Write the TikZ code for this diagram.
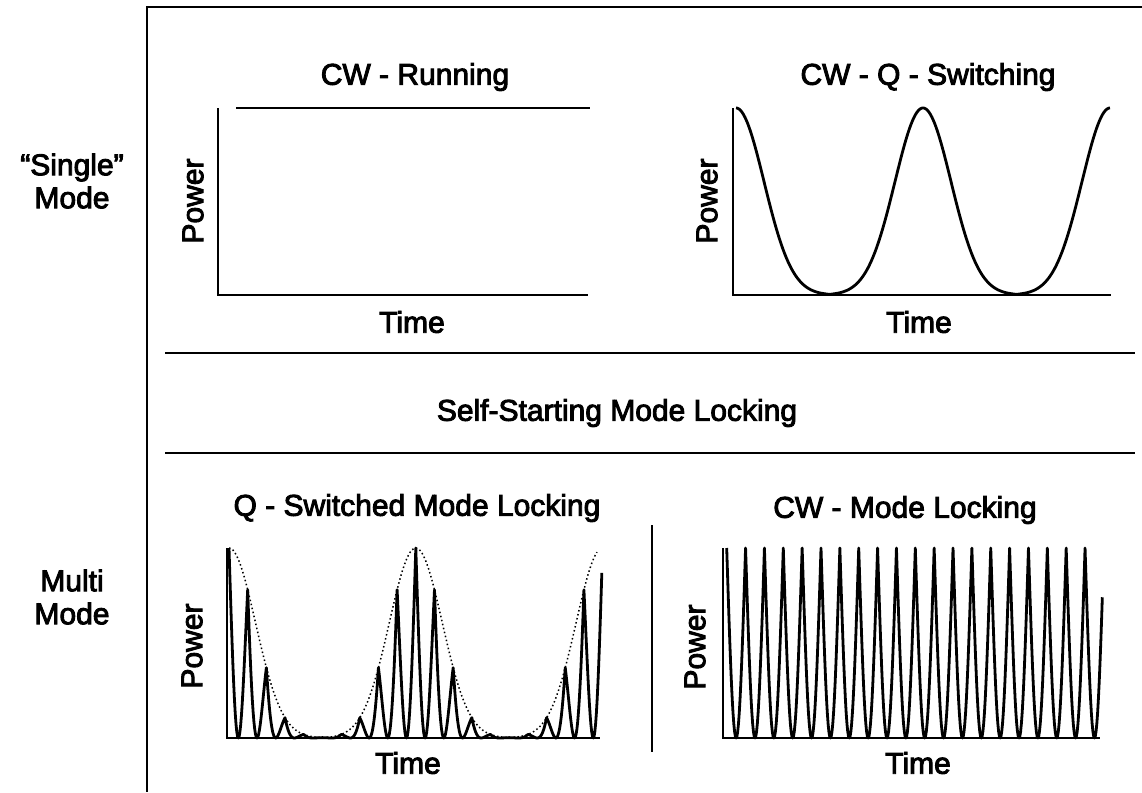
\documentclass[tikz,border=0pt]{standalone}
\usepackage{fontspec}
\setmainfont{Liberation Sans}[RawFeature={embolden=3}]
\begin{document}
\begin{tikzpicture}[x=1pt,y=-1pt,
  declare function={
    tri(\t,\p)=\p/180*asin(sin(\t/\p*180));
    gau(\t,\p,\s)=exp(-(tri(\t,\p)*tri(\t,\p))/(2*\s*\s));
    pul(\t,\p)=1-abs(sin(\t/\p*180));
  },
  lbl/.style={font=\fontsize{30}{33}\selectfont, inner sep=0pt, anchor=center, align=center},
  framel/.style={line width=2.8pt},
  axisl/.style={line width=2.4pt, line join=miter},
  curvel/.style={line width=2.8pt, line join=round},
  envl/.style={line width=1.5pt, dash pattern=on 1.5pt off 2.6pt}]
\useasboundingbox (0,0) rectangle (1142,792);
\fill[white] (0,0) rectangle (1142,792);

% frame
\coordinate (ftr) at (1142,7);
\coordinate (ftl) at (147,7);
\coordinate (fbl) at (147,792);
\draw[framel] (ftr) -- (ftl) -- (fbl);
\coordinate (m1l) at (165,353); \coordinate (m1r) at (1135,353);
\coordinate (m2l) at (165,453); \coordinate (m2r) at (1135,453);
\draw[framel] (m1l) -- (m1r);
\draw[framel] (m2l) -- (m2r);
\coordinate (dvt) at (652,525); \coordinate (dvb) at (652,752);
\draw[framel] (dvt) -- (dvb);

% row labels
\node[lbl] (single) at (72,181) {“Single”\\Mode};
\node[lbl] (multi) at (72,597) {Multi\\Mode};
\node[lbl] (self) at (617,413) {Self-Starting Mode Locking};

% plot 1: CW running
\node[lbl] (t1) at (415,77) {CW - Running};
\node[lbl, rotate=90] (p1) at (193,201) {Power};
\node[lbl] (x1) at (412,322) {Time};
\coordinate (a1t) at (218,108); \coordinate (a1o) at (218,295); \coordinate (a1r) at (588,295);
\draw[axisl] (a1t) -- (a1o) -- (a1r);
\coordinate (c1l) at (236,108); \coordinate (c1r) at (590,108);
\draw[curvel] (c1l) -- (c1r);

% plot 2: CW Q-switching
\node[lbl] (t2) at (928,77) {CW - Q - Switching};
\node[lbl, rotate=90] (p2) at (707,201) {Power};
\node[lbl] (x2) at (919,322) {Time};
\coordinate (a2t) at (733,108); \coordinate (a2o) at (733,295); \coordinate (a2r) at (1111,295);
\draw[axisl] (a2t) -- (a2o) -- (a2r);
\draw[curvel] plot[domain=0:374, samples=375] ({736+\x},{295-187*gau(\x,187,28)});

% plot 3: Q-switched mode locking
\node[lbl] (t3) at (417,508) {Q - Switched Mode Locking};
\node[lbl, rotate=90] (p3) at (192,646) {Power};
\node[lbl] (x3) at (408,763) {Time};
\coordinate (a3t) at (227,548); \coordinate (a3o) at (227,738); \coordinate (a3r) at (600,738);
\draw[axisl] (a3t) -- (a3o) -- (a3r);
\draw[envl] plot[domain=0:368, samples=200] ({229+\x},{738-190*gau(\x,186.8,26.5)});
\draw[curvel] plot[domain=0:372.823, samples=480] ({229+\x},{738-190*gau(\x,186.8,26.5)*pul(\x,18.68)});

% plot 4: CW mode locking
\node[lbl] (t4) at (905,510) {CW - Mode Locking};
\node[lbl, rotate=90] (p4) at (695,647) {Power};
\node[lbl] (x4) at (918,763) {Time};
\coordinate (a4t) at (722.7,548); \coordinate (a4o) at (722.7,738); \coordinate (a4r) at (1100,738);
\draw[axisl] (a4t) -- (a4o) -- (a4r);
\draw[curvel] plot[domain=0:375.63, samples=479] ({726.7+\x},{738-190*pul(\x,18.86)});
\end{tikzpicture}
\end{document}
